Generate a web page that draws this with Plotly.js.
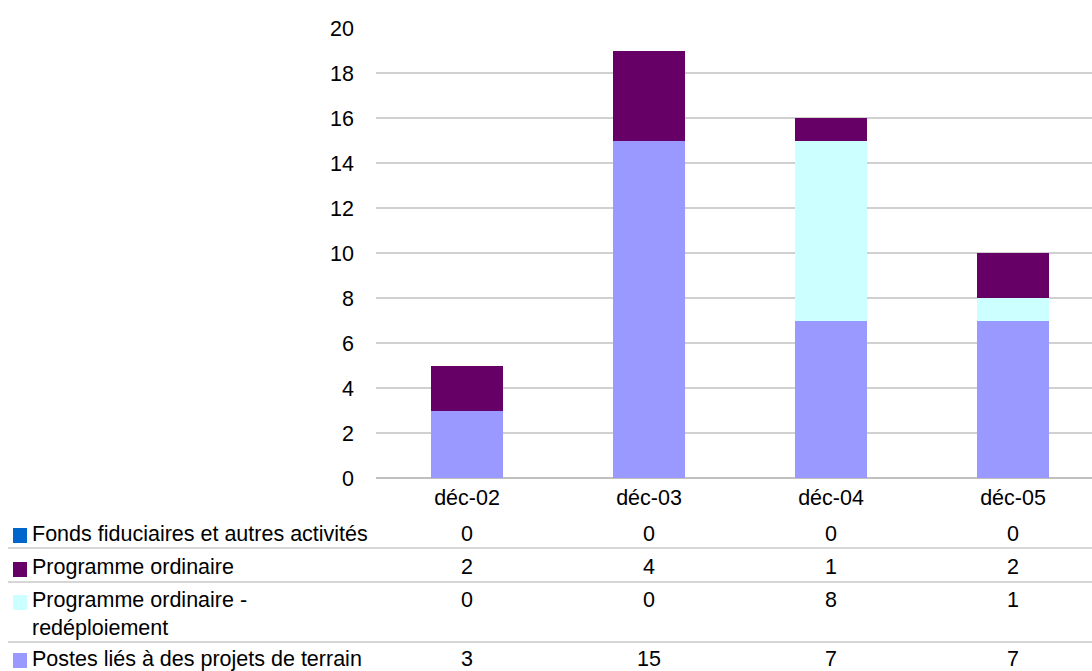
<!DOCTYPE html>
<html><head><meta charset="utf-8">
<script src="https://cdn.plot.ly/plotly-3.0.1.min.js"></script>
<style>body{margin:0;padding:0;background:#fff}#chart{width:1092px;height:671px}</style>
</head><body><div id="chart"></div>
<script>
const categories = ["déc-02", "déc-03", "déc-04", "déc-05"];
const seriesNames = ["Fonds fiduciaires et autres activités", "Programme ordinaire", "Programme ordinaire -<br>redéploiement", "Postes liés à des projets de terrain"];
const fonds = [0, 0, 0, 0];
const ordinaire = [2, 4, 1, 2];
const redeploiement = [0, 0, 8, 1];
const postes = [3, 15, 7, 7];
const colors = ["#0066CC", "#660066", "#CCFFFF", "#9999FF"];
const yTicks = [0, 2, 4, 6, 8, 10, 12, 14, 16, 18, 20];

const seriesValues = [fonds, ordinaire, redeploiement, postes];
const xs = [0, 1, 2, 3];

// stacking order bottom -> top: postes, redeploiement, ordinaire, fonds
const traces = [3, 2, 1, 0].map(i => ({
  type: 'bar', x: xs, y: seriesValues[i], name: seriesNames[i].replace('<br>', ' '),
  marker: {color: colors[i], line: {width: 0}}, width: 0.4, hoverinfo: 'y'
}));

const W = 1092, H = 671, L = 376, T = 28, B = 478;
const pw = W - L, ph = B - T;
const px = p => (p - L) / pw;
const py = p => (B - p) / ph;
const FS = 21.5;
const FONT = 'Liberation Sans, Arial, sans-serif';

// table layout (pixel positions)
const rowCenters = [534, 567, 600, 659];
const textCenters = [534, 567, 614, 659];
const keyTops = [528, 562, 595, 653];
const lineYs = [548, 582, 642];

const shapes = [];
const annotations = [];
lineYs.forEach(y => shapes.push({type: 'line', xref: 'paper', yref: 'paper', x0: px(8), x1: 1, y0: py(y), y1: py(y), line: {color: '#C8C8C8', width: 1.3}}));
seriesNames.forEach((n, i) => {
  shapes.push({type: 'rect', xref: 'paper', yref: 'paper', x0: px(13), x1: px(27), y0: py(keyTops[i]), y1: py(keyTops[i] + 15), fillcolor: colors[i], line: {width: 0}});
  annotations.push({xref: 'paper', yref: 'paper', x: px(30), y: py(textCenters[i]), xanchor: 'left', yanchor: 'middle', text: n, showarrow: false, align: 'left', font: {size: FS, color: '#000', family: FONT}});
  seriesValues[i].forEach((v, j) => {
    annotations.push({xref: 'x', yref: 'paper', x: xs[j], y: py(rowCenters[i]), xanchor: 'center', yanchor: 'middle', text: String(v), showarrow: false, font: {size: FS, color: '#000', family: FONT}});
  });
});

const layout = {
  width: W, height: H,
  margin: {l: L, r: 0, t: T, b: H - B, pad: 0},
  barmode: 'stack', showlegend: false,
  paper_bgcolor: '#fff', plot_bgcolor: '#fff',
  font: {family: FONT, size: FS, color: '#000'},
  xaxis: {range: [-0.5, -0.5 + pw / 182], tickvals: xs, ticktext: categories, showgrid: false, zeroline: false,
          showline: false, ticks: '', ticklabelstandoff: 4, tickfont: {size: FS}, fixedrange: true},
  yaxis: {range: [0, 20], tickvals: yTicks, showgrid: true, gridcolor: '#D0D0D0', gridwidth: 1.3,
          zeroline: true, zerolinecolor: '#C0C0C0', zerolinewidth: 1.3, showline: false, ticks: '',
          ticklabelstandoff: 21, tickfont: {size: FS}, fixedrange: true},
  shapes: shapes, annotations: annotations
};
Plotly.newPlot('chart', traces, layout, {displayModeBar: false, staticPlot: true});
</script></body></html>
